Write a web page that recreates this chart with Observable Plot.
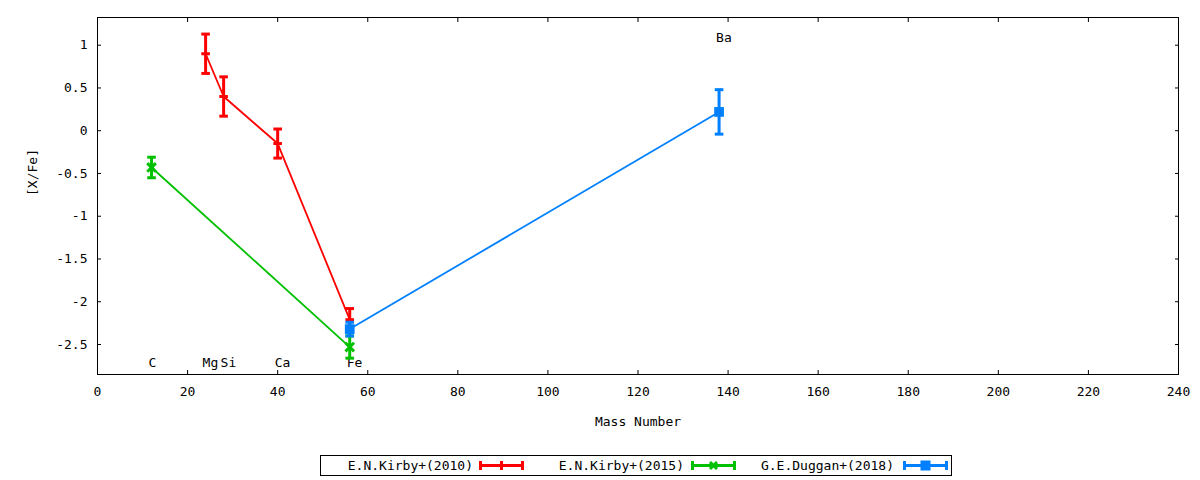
<!DOCTYPE html>
<html>
<head>
<meta charset="utf-8">
<script src="https://cdn.jsdelivr.net/npm/d3@7"></script>
<script src="https://cdn.jsdelivr.net/npm/@observablehq/plot@0.6"></script>
<style>
  body { margin: 0; background: white; }
  #wrap { position: relative; width: 1200px; height: 480px; font-family: "DejaVu Sans Mono", monospace; font-size: 13px; }
  #legend { position: absolute; left: 320px; top: 455px; width: 630px; height: 19px; border: 1px solid black; box-sizing: content-box; }
  .lt { position: absolute; top: 1px; text-align: right; white-space: nowrap; line-height: 18px; }
  .ls { position: absolute; top: 0px; }
</style>
</head>
<body>
<div id="wrap"></div>
<script>
// ---- data ----
const kirby2010Mass = [24, 28, 40, 56];
const kirby2010XFe  = [0.90, 0.40, -0.15, -2.21];
const kirby2010Err  = [0.23, 0.23, 0.17, 0.13];

const kirby2015Mass = [12, 56];
const kirby2015XFe  = [-0.43, -2.53];
const kirby2015Err  = [0.12, 0.13];

const duggan2018Mass = [56, 138];
const duggan2018XFe  = [-2.32, 0.22];
const duggan2018Err  = [0.08, 0.26];

const elementNames = ["C", "Mg", "Si", "Ca", "Fe", "Ba"];
const elementMass  = [12, 24, 28, 40, 56, 138];
const elementLabelY = [-2.72, -2.72, -2.72, -2.72, -2.72, 1.09];

const seriesNames = ["E.N.Kirby+(2010)", "E.N.Kirby+(2015)", "G.E.Duggan+(2018)"];
const seriesColors = ["#ff0000", "#00c000", "#0080ff"];

const xTicks = d3.range(0, 241, 20);
const yTicks = [-2.5, -2, -1.5, -1, -0.5, 0, 0.5, 1];

// ---- build tables ----
function table(mass, val, err) {
  return mass.map((m, i) => ({x: m, y: val[i], e: err[i]}));
}
const s2010 = table(kirby2010Mass, kirby2010XFe, kirby2010Err);
const s2015 = table(kirby2015Mass, kirby2015XFe, kirby2015Err);
const s2018 = table(duggan2018Mass, duggan2018XFe, duggan2018Err);
const labels = elementNames.map((n, i) => ({n, x: elementMass[i], y: elementLabelY[i]}));

// horizontal bar symbol (error-bar caps)
const barSymbol = {
  draw(ctx, size) {
    const r = Math.sqrt(size / Math.PI);
    ctx.moveTo(-r, -1.5); ctx.lineTo(r, -1.5); ctx.lineTo(r, 1.5); ctx.lineTo(-r, 1.5); ctx.closePath();
  }
};

function seriesMarks(data, color, center) {
  const marks = [
    Plot.line(data, {x: "x", y: "y", stroke: color, strokeWidth: 1.8}),
    Plot.ruleX(data, {x: "x", y1: d => d.y - d.e, y2: d => d.y + d.e, stroke: color, strokeWidth: 3}),
    Plot.dot(data, {x: "x", y: d => d.y - d.e, symbol: barSymbol, r: 4.3, fill: color, stroke: "none"}),
    Plot.dot(data, {x: "x", y: d => d.y + d.e, symbol: barSymbol, r: 4.3, fill: color, stroke: "none"})
  ];
  if (center === "bar") marks.push(Plot.dot(data, {x: "x", y: "y", symbol: barSymbol, r: 4.3, fill: color, stroke: "none"}));
  if (center === "times") marks.push(Plot.dot(data, {x: "x", y: "y", symbol: "times", r: 4, stroke: color, strokeWidth: 3}));
  if (center === "square") marks.push(Plot.dot(data, {x: "x", y: "y", symbol: "square", r: 5.5, fill: color, stroke: "none"}));
  return marks;
}

const chart = Plot.plot({
  width: 1200,
  height: 440,
  marginTop: 17,
  marginBottom: 66,
  marginLeft: 97,
  marginRight: 22,
  style: {fontFamily: "DejaVu Sans Mono, monospace", fontSize: "13px", background: "white", color: "black"},
  x: {domain: [0, 240]},
  y: {domain: [-2.851, 1.324]},
  marks: [
    Plot.frame({stroke: "black", strokeWidth: 1}),
    Plot.axisX({anchor: "bottom", ticks: xTicks, tickSize: 0, tickPadding: 12, tickFormat: d => String(d), label: null, fontSize: 13}),
    Plot.axisX({anchor: "bottom", ticks: xTicks, tickSize: -4, tickFormat: () => "", label: null}),
    Plot.axisX({anchor: "top", ticks: xTicks, tickSize: -4, tickFormat: () => "", label: null}),
    Plot.axisY({anchor: "left", ticks: yTicks, tickSize: 0, tickPadding: 10, tickFormat: d => String(d), label: null, fontSize: 13}),
    Plot.axisY({anchor: "left", ticks: yTicks, tickSize: -4, tickFormat: () => "", label: null}),
    Plot.axisY({anchor: "right", ticks: yTicks, tickSize: -4, tickFormat: () => "", label: null}),
    Plot.text(["Mass Number"], {frameAnchor: "bottom", dy: 51, fontSize: 13}),
    Plot.text(["[X/Fe]"], {frameAnchor: "left", dx: -65, rotate: -90, fontSize: 13}),
    Plot.text(labels, {x: "x", y: "y", text: "n", textAnchor: "start", dx: -3, fontSize: 13}),
    ...seriesMarks(s2010, seriesColors[0], "bar"),
    ...seriesMarks(s2015, seriesColors[1], "times"),
    ...seriesMarks(s2018, seriesColors[2], "square")
  ]
});

const wrap = document.getElementById("wrap");
chart.style.position = "absolute";
chart.style.left = "0px";
chart.style.top = "0px";
wrap.appendChild(chart);

// ---- legend ----
const legend = document.createElement("div");
legend.id = "legend";
wrap.appendChild(legend);
const textRight = [152, 363, 573];   // relative to legend box
const sampleLeft = [158, 370, 582];
const centers = ["bar", "times", "square"];
seriesNames.forEach((name, i) => {
  const t = document.createElement("div");
  t.className = "lt";
  t.style.right = (630 - textRight[i]) + "px";
  t.textContent = name;
  legend.appendChild(t);
  const c = seriesColors[i];
  const w = 45;
  let center = "";
  if (centers[i] === "bar") center = `<rect x="${w/2-4}" y="8" width="8" height="3" fill="${c}"/><rect x="${w/2-1.5}" y="5" width="3" height="9" fill="${c}"/>`;
  if (centers[i] === "times") center = `<path d="M${w/2-3.5},6 L${w/2+3.5},13 M${w/2+3.5},6 L${w/2-3.5},13" stroke="${c}" stroke-width="3"/>`;
  if (centers[i] === "square") center = `<rect x="${w/2-5}" y="4.5" width="10" height="10" fill="${c}"/>`;
  const s = document.createElement("div");
  s.className = "ls";
  s.style.left = sampleLeft[i] + "px";
  s.innerHTML = `<svg width="${w}" height="19"><line x1="1" x2="${w-1}" y1="9.5" y2="9.5" stroke="${c}" stroke-width="3"/>
    <rect x="0" y="5" width="3" height="9" fill="${c}"/><rect x="${w-3}" y="5" width="3" height="9" fill="${c}"/>${center}</svg>`;
  legend.appendChild(s);
});
</script>
</body>
</html>
